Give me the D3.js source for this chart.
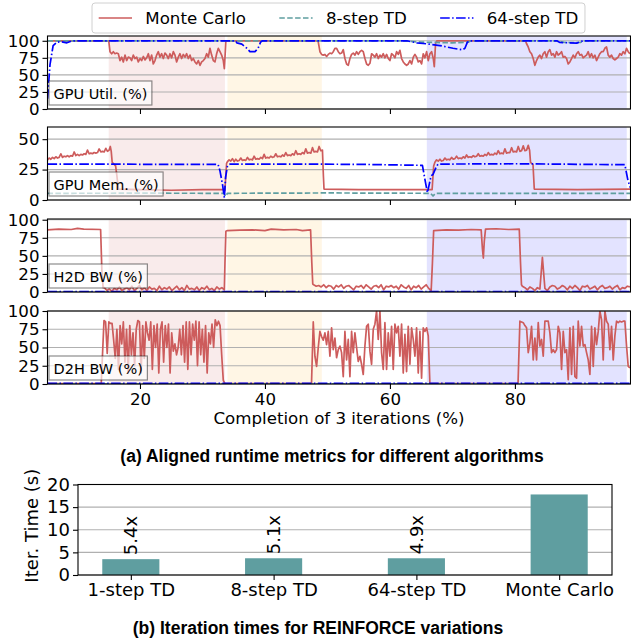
<!DOCTYPE html>
<html>
<head>
<meta charset="utf-8">
<script src="https://cdn.jsdelivr.net/npm/d3@7"></script>
<style>
  body { margin: 0; background: #fff; }
  svg text { font-family: "DejaVu Sans", sans-serif; fill: #000; }
  .caption { font-family: "Liberation Sans", Arial, sans-serif !important; font-weight: bold; }
</style>
</head>
<body>
<div id="chart"></div>
<script>
// ---------------- data ----------------
const seriesNames = ['Monte Carlo', '8-step TD', '64-step TD'];
const xDomain = [5.2, 98.5];
const xTicks = [20, 40, 60, 80];
const phaseSpans = [[15.0, 33.6], [34.0, 49.1], [65.9, 97.9]];
const panelLabels = ['GPU Util. (%)', 'GPU Mem. (%)', 'H2D BW (%)', 'D2H BW (%)'];
const panelYMax = [107, 60, 101, 100];
const panelYTicks = [[0, 25, 50, 75, 100], [0, 25, 50], [0, 25, 50, 75, 100], [0, 25, 50, 75, 100]];

const STEP = 0.2667;
const LOW_STEP = 0.4;
const D2H_STEP = 0.258;

// GPU utilisation, Monte Carlo
const utilMcA = [84,81,84,81,82,81,71,76,69,79,71,76,75,71,79,74,76,69,74,71,77,72,75,81,71,79,66,71,79,84,
  76,81,74,82,79,74,81,75,84,79,69,76,81,74,80,76,81,74,79,71,74,69,66,71,64,69,71,74,81,76,89,79,71,69,81,89,84,79,71];
const utilMcB = [84,80,79,80,77,80,82,81,84,89,89,84,81,82,87,74,66,64,74,80,82,79,84,80,84,86,84,74,66,64,
  67,81,79,76,81,74,79,76,81,75,80,74,71,81,79,75,84,80,86,74,69,66,64,66,71,66,76,80,76,69,71,66,81,75,84,71,81,84,74];
const utilMcC = [91,84,81,74,64,71,76,79,74,81,84,76,84,87,79,81,76,84,79,81,84,76,77,74,66,69,74,79,75,81,
  84,79,80,75,77,79,84,76,81,75,79,71,76,81,84,84,89,91,79,76,79,74,72,74,76,81,79,84,81,89,84,81];
const utilTd8 = [[5.2,100],[62,100],[65,98],[70,97],[72.5,98],[73,100],[86.5,100],[88,97.5],[90.5,97.5],[91,100],[98.5,100]];
const utilTd64 = [[5.2,15],[5.6,65],[6.1,93],[6.7,98],[7.5,98.5],[8.3,97],[9.0,99.5],[9.5,100],[35.3,100],[35.5,97],
  [36.3,95],[37.1,89],[37.6,84],[38.4,84],[38.9,89],[39.3,98],[39.6,100],[62.7,100],[64.3,97],[65.9,95.5],[68,93],
  [70.1,89],[71.6,86.7],[72,89],[72.4,98],[72.8,100],[86.7,100],[87.2,97.5],[89.9,96.5],[90.9,100],[98.5,100]];

// GPU memory, Monte Carlo (saw-tooth growth phases)
const memMcA = [33,34.5,33.5,35,34,35.5,34.5,35,38,35,36,35.5,36.5,35.5,36.5,36,39.5,36.5,37.5,36.5,
  37.5,37,38,37.5,41,38,38.5,38,39,38.5,39,42,39.5,40,39.5,42.5,40,41];
const memMcB = [31.5,33,32,34,31.5,33.5,32,32.5,34.5,32.5,33,32.5,35,33,33.5,33,36,33.5,34,33.5,
  35,34,37.5,34.5,35,34.5,36,35,35.5,38,35.5,36,35.5,37,36,39,36.5,37,36.5,38,
  37,40.5,37.5,38,37.5,39,38,42,38.5,39,38.5,43,39.5,40,39.5,44,40.5];
const memMcC = [31,33,32,33.5,32,32.5,34.5,33,33.5,33,35,33.5,34,36,34,34.5,34,35.5,34.5,37,
  35,35.5,35,36.5,35.5,36,38,36,36.5,36,37.5,36.5,39,37,37.5,37,38.5,37.5,40.5,38,
  38.5,38,42,38.5,39,39,43,39.5,40,39.5,44,40,40.5,44.5,40.5,41,45];
const memTd8 = [[5.2,5.5],[20,5.6],[33.4,5.5],[33.7,3],[34.0,5.5],[50,5.8],[66.5,5.5],[66.9,3.3],[67.3,5.5],[98.5,5.5]];
const memTd64 = [[5.2,29.5],[15,29.5],[25,29.2],[32.5,29.2],[32.8,24],[33.2,13],[33.5,2],[33.7,18.6],[34,28],[34.4,29.5],
  [45,29.5],[55,29.3],[65.2,28.5],[65.6,17],[66,6],[66.3,13],[66.6,20],[66.9,21],[67.4,27],[67.7,29.5],[80,29.8],
  [97.6,29],[98.1,15.8],[98.5,10]];

// host-to-device bandwidth, Monte Carlo (low stretches)
const h2dLowA = [6,2,4,1,5,3,7,2,4,6,3,8,2,5,9,3,6,2,7,4,5,2,8,3,6,4,7,2,5,8,3,6,2,9,4,5,3,7,2,6,4,8,3,5,2,7,4,6,3];
const h2dLowB = [10,8,9,7,10,6,9,8,4,9,7,10,5,8,9,6,3,8,7,9,5,10,7,4,8,9,6,10,3,8,7,9,6,8,4,10,7,5,9,3,8,6,9,4,7,10,5,2];
const h2dLowC = [8,6,3,7,5,2,6,4,48,5,2,7,9,8,4,6,9,7,3,8,5,9,6,2,8,7,9,4,6,8,3,7,9,5,6,8,4,7,9,3,6,5,8,7];
const h2dTd8 = [[5.2,0.3],[98.5,0.3]];
const h2dTd64 = [[5.2,0.4],[98.5,0.4]];

// device-to-host bandwidth, Monte Carlo (busy stretches)
const d2hA = [87,85,42,85,83,83,60,35,75,20,80,55,85,30,75,15,80,40,70,25,75,87,85,15,80,35,85,70,60,85,
  20,80,50,82,15,75,85,30,80,50,82,15,70,45,55,40,50,75,40,80,30,85,20,85,40,82,60,86,25,85,
  40,75,30,80,15,70,55,82,50,88,80,86,80,40,5];
const d2hB = [85,38,24,50,72,65,60,70,54,72,38,77,47,63,36,47,52,43,10,72,33,61,10,72,43,70,50,31,38,27,
  13,52,79,82,45,27,75,82,100,61,100,43,20,84,20,70,38,79,20,82,70,79,38,82,15,68,17,79,27,77,
  61,38,77,15,72,8,77,72,77,66,0];
const d2hC = [86,85,84,80,77,43,56,79,33,63,33,84,52,61,38,86,86,86,70,43,47,43,47,79,70,20,72,43,47,6,
  77,13,79,10,8,86,52,79,52,54,43,33,13,79,24,77,54,72,100,88,33,100,86,82,47,79,33,66,86,84,
  86,85,86,86,52,24,22];
const d2hTd8 = [[5.2,0.3],[98.5,0.3]];
const d2hTd64 = [[5.2,1],[98.5,1]];

// bar chart
const barCategories = ['1-step TD', '8-step TD', '64-step TD', 'Monte Carlo'];
const barTimes = [3.5, 3.7, 3.7, 17.8];
const barSpeedups = ['5.4x', '5.1x', '4.9x', ''];
const barYTicks = [0, 5, 10, 15, 20];

// ---------------- assemble series ----------------
function run(x0, step, values) {
  return values.map((v, k) => [x0 + k * step, v]);
}

const utilMc = [[5.2,100],[15.0,100], ...run(15.2, STEP, utilMcA), [33.5,59],[33.75,100],[48.5,100],
  ...run(48.8, STEP, utilMcB), [67.1,62],[67.3,96],[67.5,100],[81.7,100],[81.85,96], ...run(82.13, STEP, utilMcC)];
const memMc = [...run(5.2, STEP, memMcA), [15.25,44],[15.4,40],[15.55,31],[16.1,28],[16.3,20],[16.55,9],[20,8.5],
  [25,8],[30,8.5],[33.4,8.5],[33.6,8],[33.85,30], ...run(34.0, STEP, memMcB), [49.2,41],[49.35,20],[49.45,9],
  [55,8.5],[60,8.5],[66.75,8.5],[67.0,28], ...run(67.2, STEP, memMcC), [82.35,41],[82.5,31],[82.9,29],[83.1,9],
  [90,8.5],[98.5,9]];
const h2dMc = [[5.2,86],[7,87],[9,86.5],[10,88],[11,87],[13.7,86.5],[13.9,30],[14.1,6], ...run(14.3, LOW_STEP, h2dLowA),
  [33.6,40],[33.75,84],[34.0,85],[36,85.5],[38,86],[40,85],[41,87],[43,86],[45,86.5],[46,85],[47.3,86],[47.5,40],[47.65,11],
  ...run(47.8, LOW_STEP, h2dLowB), [66.8,40],[67.0,85],[69,86],[71,85.5],[73,86.5],[74.6,86],[74.8,60],[74.95,47],
  [75.1,70],[75.3,87],[77,87.5],[79,86.5],[80.7,87],[80.9,40],[81.05,10], ...run(81.2, LOW_STEP, h2dLowC)];
const d2hMc = [[5.2,0.5],[13.8,0.5], ...run(14.24, D2H_STEP, d2hA), [33.6,0.5],[47.45,0.5],
  ...run(47.73, STEP, d2hB), [66.6,0.5],[80.5,0.5], ...run(80.8, STEP, d2hC)];

const panelSeries = [
  [utilMc, utilTd8, utilTd64],
  [memMc, memTd8, memTd64],
  [h2dMc, h2dTd8, h2dTd64],
  [d2hMc, d2hTd8, d2hTd64]
];

// ---------------- styles ----------------
const W = 631, H = 638;
const FONT = 16.67;
const BAR_FONT = 18;
const seriesColors = ['#cd5c5c', '#5f9ea0', '#0000ff'];
const seriesDash = [null, '5.5,2.4', '9.6,2.4,1.5,2.4'];
const phaseColors = ['rgba(205,92,92,0.12)', 'rgba(255,165,0,0.1)', 'rgba(0,0,255,0.11)'];
const gridColor = '#b0b0b0';

const plotLeft = 47.5, plotRight = 630.5;
const panelTop = [36, 127, 219, 311];
const panelH = 73;

const svg = d3.select('#chart').append('svg')
  .attr('width', W)
  .attr('height', H);

const x = d3.scaleLinear().domain(xDomain).range([plotLeft, plotRight]);

function styleAxis(a, size){
  a.select('.domain').remove();
  a.selectAll('line').attr('stroke', '#000').attr('stroke-width', 1.1);
  a.selectAll('text').style('font-size', size + 'px').style('font-family', '"DejaVu Sans"');
}

function drawPanel(i){
  const top = panelTop[i], bottom = top + panelH;
  const y = d3.scaleLinear().domain([0, panelYMax[i]]).range([bottom, top]);
  const g = svg.append('g');

  g.append('clipPath').attr('id', 'clip' + i)
    .append('rect')
    .attr('x', plotLeft).attr('y', top)
    .attr('width', plotRight - plotLeft).attr('height', panelH);

  //phase shading
  g.selectAll('rect.phase')
    .data(phaseSpans)
    .enter().append('rect')
    .attr('class', 'phase')
    .attr('x', d => x(d[0]))
    .attr('width', d => x(d[1]) - x(d[0]))
    .attr('y', top)
    .attr('height', panelH)
    .attr('fill', (d, k) => phaseColors[k]);

  //grid
  g.selectAll('line.grid')
    .data(panelYTicks[i])
    .enter().append('line')
    .attr('x1', plotLeft).attr('x2', plotRight)
    .attr('y1', d => y(d)).attr('y2', d => y(d))
    .attr('stroke', gridColor)
    .attr('stroke-width', 1.1);

  const line = d3.line().x(d => x(d[0])).y(d => y(d[1]));
  const lines = g.append('g').attr('clip-path', 'url(#clip' + i + ')');
  panelSeries[i].forEach((pts, k) => {
    lines.append('path')
      .attr('d', line(pts))
      .attr('fill', 'none')
      .attr('stroke', seriesColors[k])
      .attr('stroke-width', 1.7)
      .attr('stroke-linejoin', 'round')
      .attr('stroke-dasharray', seriesDash[k]);
  });

  //axes
  const yAxis = d3.axisLeft(y).tickValues(panelYTicks[i]).tickSize(5).tickPadding(3);
  const yG = g.append('g').attr('transform', 'translate(' + plotLeft + ',0)').call(yAxis);
  const xAxis = d3.axisBottom(x).tickValues(xTicks).tickSize(5).tickPadding(4);
  if(i < 3) xAxis.tickFormat('');
  const xG = g.append('g').attr('transform', 'translate(0,' + bottom + ')').call(xAxis);
  styleAxis(yG, FONT);
  styleAxis(xG, FONT);

  g.append('rect')
    .attr('x', plotLeft).attr('y', top)
    .attr('width', plotRight - plotLeft).attr('height', panelH)
    .attr('fill', 'none')
    .attr('stroke', '#000')
    .attr('stroke-width', 1.1);

  //label box in the lower-left corner
  const lbl = g.append('g');
  const boxH = 24, boxBottom = bottom - 4;
  const rect = lbl.append('rect');
  const txt = lbl.append('text')
    .attr('x', plotLeft + 6)
    .attr('y', boxBottom - 6.5)
    .style('font-size', '14.5px')
    .text(panelLabels[i]);
  const tw = txt.node().getComputedTextLength();
  rect.attr('x', plotLeft + 1.5).attr('y', boxBottom - boxH)
    .attr('width', tw + 9).attr('height', boxH)
    .attr('fill', 'rgba(255,255,255,0.65)')
    .attr('stroke', 'rgba(0,0,0,0.45)')
    .attr('stroke-width', 1.2);
}

for(let i = 0; i < 4; i++) drawPanel(i);

svg.append('text')
  .attr('x', (plotLeft + plotRight) / 2)
  .attr('y', 424)
  .attr('text-anchor', 'middle')
  .style('font-size', FONT + 'px')
  .text('Completion of 3 iterations (%)');

// legend
const legend = svg.append('g');
const legendBox = legend.append('rect')
  .attr('x', 92).attr('y', 3).attr('height', 30).attr('rx', 3)
  .attr('fill', '#fff').attr('stroke', '#d0d0d0');
let lx = 92 + 6.7;
seriesNames.forEach((name, k) => {
  legend.append('line')
    .attr('x1', lx).attr('x2', lx + 33.3)
    .attr('y1', 18).attr('y2', 18)
    .attr('stroke', seriesColors[k])
    .attr('stroke-width', 1.7)
    .attr('stroke-dasharray', seriesDash[k]);
  const t = legend.append('text')
    .attr('x', lx + 33.3 + 13.3)
    .attr('y', 24)
    .style('font-size', FONT + 'px')
    .text(name);
  lx += 33.3 + 13.3 + t.node().getComputedTextLength();
  if(k < seriesNames.length - 1) lx += 33.3;
});
legendBox.attr('width', lx + 6.7 - 92);

svg.append('text')
  .attr('class', 'caption')
  .attr('x', 332).attr('y', 462)
  .attr('text-anchor', 'middle')
  .style('font-size', '17.5px')
  .text('(a) Aligned runtime metrics for different algorithms');

// ---------------- bar chart ----------------
const bLeft = 78, bRight = 612, bTop = 484.5, bBottom = 575;
const bx = d3.scaleLinear().domain([-0.37, 3.37]).range([bLeft, bRight]);
const by = d3.scaleLinear().domain([0, 20]).range([bBottom, bTop]);
const bg = svg.append('g');

bg.selectAll('line.grid')
  .data(barYTicks)
  .enter().append('line')
  .attr('x1', bLeft).attr('x2', bRight)
  .attr('y1', d => by(d)).attr('y2', d => by(d))
  .attr('stroke', gridColor)
  .attr('stroke-width', 1.1);

bg.selectAll('rect.bar')
  .data(barTimes)
  .enter().append('rect')
  .attr('class', 'bar')
  .attr('x', (d, k) => bx(k - 0.2))
  .attr('width', bx(0.4) - bx(0))
  .attr('y', d => by(d))
  .attr('height', d => bBottom - by(d))
  .attr('fill', '#5f9ea0');

bg.selectAll('text.speedup')
  .data(barSpeedups)
  .enter().append('text')
  .attr('class', 'speedup')
  .attr('transform', (d, k) => 'translate(' + bx(k) + ',' + (by(barTimes[k]) - 4) + ') rotate(-90)')
  .attr('dominant-baseline', 'central')
  .style('font-size', BAR_FONT + 'px')
  .text(d => d);

const byAxis = d3.axisLeft(by).tickValues(barYTicks).tickSize(5).tickPadding(3);
const bxAxis = d3.axisBottom(bx).tickValues([0, 1, 2, 3]).tickSize(5).tickPadding(3)
  .tickFormat(k => barCategories[k]);
const byG = bg.append('g').attr('transform', 'translate(' + bLeft + ',0)').call(byAxis);
const bxG = bg.append('g').attr('transform', 'translate(0,' + bBottom + ')').call(bxAxis);
styleAxis(byG, BAR_FONT);
styleAxis(bxG, BAR_FONT);

bg.append('rect')
  .attr('x', bLeft).attr('y', bTop)
  .attr('width', bRight - bLeft).attr('height', bBottom - bTop)
  .attr('fill', 'none')
  .attr('stroke', '#000')
  .attr('stroke-width', 1.1);

bg.append('text')
  .attr('transform', 'translate(31,' + ((bTop + bBottom) / 2 - 4) + ') rotate(-90)')
  .attr('text-anchor', 'middle')
  .attr('dominant-baseline', 'central')
  .style('font-size', BAR_FONT + 'px')
  .text('Iter. Time (s)');

svg.append('text')
  .attr('class', 'caption')
  .attr('x', 318).attr('y', 634)
  .attr('text-anchor', 'middle')
  .style('font-size', '17.5px')
  .text('(b) Iteration times for REINFORCE variations');
</script>
</body>
</html>
